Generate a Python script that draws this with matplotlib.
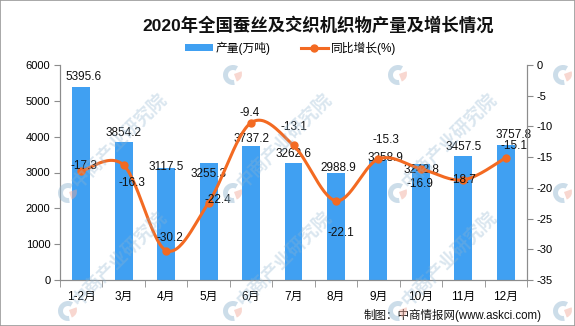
import matplotlib
matplotlib.use("Agg")
import matplotlib.pyplot as plt
import numpy as np
from matplotlib.lines import Line2D
from matplotlib.patches import Patch, Rectangle, Wedge

plt.rcParams['font.family'] = ['Liberation Sans', 'Noto Sans CJK SC', 'DejaVu Sans']
plt.rcParams['axes.unicode_minus'] = False

categories = ["1-2月", "3月", "4月", "5月", "6月", "7月", "8月", "9月", "10月", "11月", "12月"]
output = [5395.6, 3854.2, 3117.5, 3255.3, 3737.2, 3262.6, 2988.9, 3358.9, 3242.8, 3457.5, 3757.8]
growth = [-17.3, -16.3, -30.2, -22.4, -9.4, -13.1, -22.1, -15.3, -16.9, -18.7, -15.1]
left_ticks = [0, 1000, 2000, 3000, 4000, 5000, 6000]
right_ticks = [-35, -30, -25, -20, -15, -10, -5, 0]

# label offsets in pixels (dx, dy)
bar_off = [(2, 10), (0, 9), (0, 1), (0, -11), (0, 7), (0, 9), (2, 5), (7, 2), (1, -6), (0, 9), (8, 10)]
line_off = [(3, 5), (8, -18), (4, 13), (9, 3), (-1, 10), (0, 18), (5, -32), (8, 19), (-1, -15), (0, 0), (8, 12)]

BLUE = '#40a0f2'
ORANGE = '#f36a22'
GRAY = '#8c8c8c'

W, H = 575, 326
fig = plt.figure(figsize=(W / 100, H / 100), dpi=100)
fig.patches.append(Rectangle((0, 0), 1, 1, transform=fig.transFigure, fill=False,
                             edgecolor='#9a9a9a', linewidth=1.2, zorder=10))

ax = fig.add_axes([60 / W, 1 - 280 / H, (527 - 60) / W, (280 - 65) / H])
ax2 = ax.twinx()

x = np.arange(len(categories))
ax.bar(x, output, width=0.42, color=BLUE, zorder=2)
ax.set_xlim(-0.5, len(categories) - 0.5)
ax.set_ylim(0, 6000)
ax.set_yticks(left_ticks)
ax.set_yticklabels([str(t) for t in left_ticks], fontsize=8)
ax.set_xticks(x)
ax.set_xticklabels(categories, fontsize=8.5)
ax.set_xticks(np.arange(-0.5, len(categories), 1.0), minor=True)
ax.tick_params(axis='x', which='major', length=0, pad=8)
ax.tick_params(axis='x', which='minor', length=5, color=GRAY, direction='out')
ax.tick_params(axis='y', length=4, color=GRAY, pad=3)

for s in ['top']:
    ax.spines[s].set_visible(False)
    ax2.spines[s].set_visible(False)
for s in ['left', 'bottom', 'right']:
    ax.spines[s].set_color(GRAY)
    ax2.spines[s].set_color(GRAY)

for xi, v, (dx, dy) in zip(x, output, bar_off):
    ax.annotate(f"{v:.1f}", (xi, v), xytext=(dx, dy), textcoords='offset pixels',
                ha='center', va='center', fontsize=8.5, color='#111111', zorder=5)

# smooth (Catmull-Rom) curve through the data points
pts = np.column_stack([x, growth]).astype(float)
n = len(pts)
curve = []
t = np.linspace(0, 1, 30)
for i in range(n - 1):
    p0 = pts[max(i - 1, 0)]
    p1 = pts[i]
    p2 = pts[i + 1]
    p3 = pts[min(i + 2, n - 1)]
    c1 = p1 + (p2 - p0) / 6.0
    c2 = p2 - (p3 - p1) / 6.0
    seg = ((1 - t) ** 3)[:, None] * p1 + (3 * (1 - t) ** 2 * t)[:, None] * c1 + \
          (3 * (1 - t) * t ** 2)[:, None] * c2 + (t ** 3)[:, None] * p2
    curve.append(seg)
curve = np.vstack(curve)
ax2.plot(curve[:, 0], curve[:, 1], color=ORANGE, linewidth=2.2, zorder=3)
ax2.plot(x, growth, linestyle='none', marker='o', markersize=5, color=ORANGE, zorder=4)
ax2.set_ylim(-35, 0)
ax2.set_yticks(right_ticks)
ax2.set_yticklabels([str(t) for t in right_ticks], fontsize=8)
ax2.tick_params(axis='y', length=4, color=GRAY, pad=3)

for xi, v, (dx, dy) in zip(x, growth, line_off):
    ax2.annotate(f"{v:.1f}", (xi, v), xytext=(dx, dy), textcoords='offset pixels',
                 ha='center', va='center', fontsize=8.5, color='#111111', zorder=6)

fig.text(318 / W, 1 - 25 / H, "2020年全国蚕丝及交织机织物产量及增长情况", ha='center', va='center',
         fontsize=12.5, fontweight='bold', color='#111111')

handles = [Patch(facecolor=BLUE, edgecolor='none'),
           Line2D([0], [0], color=ORANGE, linewidth=2.2, marker='o', markersize=5)]
fig.legend(handles, ["产量(万吨)", "同比增长(%)"], loc='center', bbox_to_anchor=(291 / W, 1 - 48 / H),
           ncol=2, frameon=False, fontsize=8.5, handlelength=2.3, handleheight=0.5,
           columnspacing=2.5, handletextpad=0.3)

fig.text(542 / W, 1 - 315 / H, "制图：中商情报网(www.askci.com)", ha='right', va='center',
         fontsize=8.3, color='#111111')

# faint watermark overlay (logos everywhere, text only where it fits fully)
wm = fig.add_axes([0, 0, 1, 1], zorder=20)
wm.set_xlim(0, W)
wm.set_ylim(H, 0)
wm.axis('off')
wm.patch.set_alpha(0)
wm_x = [-97, 68, 233, 398, 563]
wm_y = [75, 193, 311]
for yy in wm_y:
    for xx in wm_x:
        cx, cy = xx + 52, yy - 52
        if 52 <= cx <= W - 52 and 52 <= cy <= H - 52:
            wm.text(cx, cy, "中商产业研究院", rotation=45, ha='center', va='center',
                    fontsize=13, fontweight='bold', color='#8fb4d0', alpha=0.33)
        if not (xx == 68 and yy == 75):
            wm.add_patch(Wedge((xx, yy), 10, 80, 300, width=5, facecolor='#8fb4d0',
                               edgecolor='none', alpha=0.45))
            wm.add_patch(Wedge((xx + 1, yy - 1), 8, -20, 70, facecolor='#f0a898',
                               edgecolor='none', alpha=0.45))

fig.savefig("out.png", dpi=100)
